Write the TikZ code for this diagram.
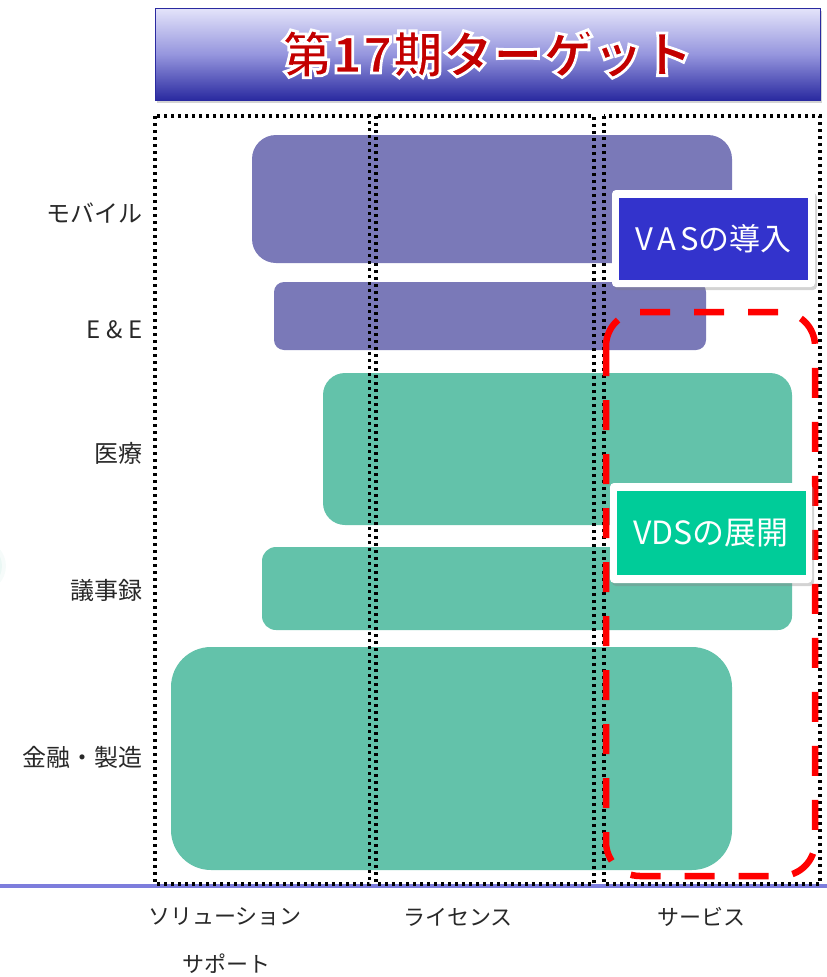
\documentclass[tikz,border=0pt]{standalone}
\usepackage{fontspec}
\newfontfamily\jp{Noto Sans CJK JP}
\newfontfamily\jptitle[FakeBold=5.5]{Noto Sans CJK JP}
\usetikzlibrary{shadows,calc}
\definecolor{barpurple}{RGB}{122,121,184}
\definecolor{bargreen}{RGB}{99,194,170}
\definecolor{vasblue}{RGB}{51,51,204}
\definecolor{vdsgreen}{RGB}{0,204,153}
\definecolor{axisblue}{RGB}{125,125,220}
\definecolor{labelgray}{RGB}{40,40,40}
\definecolor{titlered}{RGB}{195,0,0}
\definecolor{titletop}{RGB}{228,228,250}
\definecolor{titlemid}{RGB}{150,150,222}
\definecolor{titlebot}{RGB}{42,42,160}
\tikzset{
  bar/.style={inner sep=0pt, rounded corners=#1},
  colbox/.style={draw=black, line width=3.2pt, dash pattern=on 3pt off 4pt},
  rowlabel/.style={anchor=east, font=\jp\fontsize{24}{28}\selectfont, text=labelgray, inner sep=0pt},
  collabel/.style={anchor=center, font=\jp\fontsize{22}{26}\selectfont, text=labelgray, inner sep=0pt},
  callout/.style={fill=white, inner sep=0pt, rounded corners=4pt, drop shadow={shadow xshift=2pt, shadow yshift=-3pt, opacity=0.35}},
  calloutin/.style={inner sep=0pt, font=\jp\fontsize{31}{36}\selectfont, text=white},
  titletext/.style={font=\jptitle\bfseries\fontsize{50}{56}\selectfont, inner sep=0pt},
}
\begin{document}
\begin{tikzpicture}[x=1pt,y=-1pt]
\useasboundingbox (0,0) rectangle (827,977);
% faint green glow at left edge
\foreach \r/\o in {26/0.06,22/0.08,18/0.12}{
  \fill[bargreen, opacity=\o] (-20,566) circle (\r pt);
}
% title banner
\node[inner sep=0pt, minimum width=665pt, minimum height=92pt, top color=titletop, bottom color=titlebot, middle color=titlemid, draw=titlebot, line width=1pt, drop shadow={shadow xshift=2pt, shadow yshift=-3pt, opacity=0.35}] (title) at (487.5,54) {};
\node[titletext] (titlelabel) at (title.center) {\color{titlered}\special{pdf:literal direct 1 1 1 RG}第17期ターゲット};
% bars
\node[bar=24pt, fill=barpurple, minimum width=480pt, minimum height=128pt] (mobile) at (492,199) {};
\node[bar=10pt, fill=barpurple, minimum width=432pt, minimum height=68pt] (ee) at (490,316) {};
\node[bar=22pt, fill=bargreen, minimum width=469pt, minimum height=152pt] (medical) at (557.5,449) {};
\node[bar=14pt, fill=bargreen, minimum width=530pt, minimum height=83pt] (minutes) at (527,588.5) {};
\node[bar=40pt, fill=bargreen, minimum width=561pt, minimum height=223pt] (finance) at (451.5,758.5) {};
% axis line
\draw[axisblue, line width=4pt] (0,886) coordinate (axl) -- (827,886) coordinate (axr);
% column boxes
\draw[colbox] (155,116) rectangle (369.5,884);
\draw[colbox] (376,116) rectangle (594,884);
\draw[colbox] (604,116) rectangle (820,884);
% red dashed
\draw[red, line width=6.5pt, dash pattern=on 30pt off 24pt, rounded corners=34pt] (606,312) rectangle (815,876);
% callouts
\node[callout, minimum width=203pt, minimum height=97pt] (vasout) at (713.5,238.5) {};
\node[calloutin, fill=vasblue, minimum width=189pt, minimum height=82pt] (vas) at (vasout.center) {V\hspace{4pt}A\hspace{4pt}Sの導入};
\node[callout, minimum width=202pt, minimum height=100pt] (vdsout) at (711,533) {};
\node[calloutin, fill=vdsgreen, minimum width=189pt, minimum height=84pt, font=\jp\fontsize{32}{36}\selectfont] (vds) at (vdsout.center) {VDSの展開};
% row labels
\node[rowlabel] (lmobile) at (143,213) {モバイル};
\node[rowlabel] (lee) at (143,330) {E\hspace{6pt}\&\hspace{6pt}E};
\node[rowlabel] (lmed) at (143,453) {医療};
\node[rowlabel] (lmin) at (143,590) {議事録};
\node[rowlabel] (lfin) at (143,757) {金融・製造};
% column labels
\node[collabel] (c1) at (225,917) {ソリューション};
\node[collabel] (c1b) at (226,964) {サポート};
\node[collabel] (c2) at (458,917) {ライセンス};
\node[collabel] (c3) at (701,917) {サービス};
\end{tikzpicture}
\end{document}
